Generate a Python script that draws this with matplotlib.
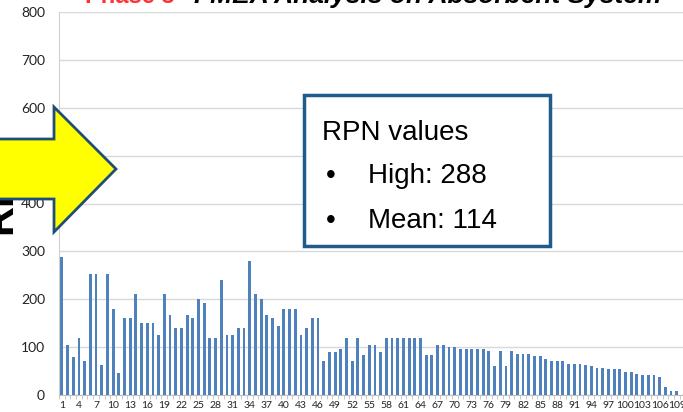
import matplotlib
matplotlib.use("Agg")
import matplotlib.pyplot as plt
from matplotlib.patches import Polygon, Rectangle
import numpy as np

# RPN score for each failure mode, in order of item number
rpn_values = [
    288, 104, 80, 120, 72, 252, 252, 63, 252, 180,
    45, 160, 160, 210, 150, 150, 150, 125, 210, 168,
    140, 140, 168, 160, 200, 192, 120, 120, 240, 125,
    125, 140, 140, 280, 210, 200, 168, 160, 145, 180,
    180, 180, 125, 140, 160, 160, 72, 90, 90, 96,
    120, 72, 120, 84, 105, 105, 90, 120, 120, 120,
    120, 120, 120, 120, 84, 84, 105, 105, 100, 100,
    96, 96, 96, 96, 96, 91, 60, 91, 60, 91,
    85, 85, 85, 82, 82, 75, 72, 72, 72, 64,
    64, 64, 63, 60, 56, 56, 54, 54, 54, 49,
    49, 43, 41, 41, 41, 37, 16, 8, 8,
]
items = list(range(1, len(rpn_values) + 1))
y_ticks = [0, 100, 200, 300, 400, 500, 600, 700, 800]
summary_title = "RPN values"
summary_lines = ["High: 288", "Mean: 114"]

W, H = 683, 412
fig = plt.figure(figsize=(W / 100, H / 100), dpi=100)
fig.patch.set_facecolor("white")

# axes placement in pixels
left_px, right_px, top_px, bottom_px = 59, 683, 12, 395
ax = fig.add_axes([left_px / W, (H - bottom_px) / H,
                   (right_px - left_px) / W, (bottom_px - top_px) / H])

ax.bar(items, rpn_values, width=0.5, color="#4f81bd", zorder=3)

ax.set_xlim(0.5, 110.1)
ax.set_ylim(0, 800)
ax.set_yticks(y_ticks)
ax.set_yticklabels([str(v) for v in y_ticks], fontsize=10, family="Lato", color="#222222")
ax.set_xticks(items[::3])
ax.set_xticklabels([str(i) for i in items[::3]], fontsize=7.5, family="Lato", color="#222222")
ax.set_xticks(np.arange(0.5, 110.5, 1.0), minor=True)
ax.tick_params(axis="x", which="major", length=0, pad=4)
ax.tick_params(axis="x", which="minor", length=3, color="#bfbfbf")
ax.tick_params(axis="y", length=0, pad=10)
ax.grid(axis="y", color="#d9d9d9", linewidth=1, zorder=0)
for s in ["top", "right"]:
    ax.spines[s].set_visible(False)
ax.spines["left"].set_color("#d0d0d0")
ax.spines["bottom"].set_color("#bfbfbf")

# title, clipped by the top edge of the figure
fig.text(85 / W, 1 - 3 / H, "Phase 3", color="#ff3333", fontsize=17,
         fontweight="bold", family="Liberation Sans", va="baseline", ha="left")
fig.text(172 / W, 1 - 3 / H, "– FMEA Analysis on Absorbent System", color="black",
         fontsize=19, fontweight="bold", style="italic", family="Liberation Sans",
         va="baseline", ha="left")

# y-axis label, partly past the left edge
fig.text(0 / W, 1 - 190 / H, "RPN", rotation=90, fontsize=30, fontweight="bold",
         family="Liberation Sans", va="center", ha="center")


def px(x, y):
    return (x / W, 1 - y / H)


# yellow arrow pointing at the chart
arrow_pts = [(-10, 139), (54, 139), (54, 107), (116, 169), (54, 232), (54, 199), (-10, 199)]
fig.patches.append(Polygon([px(x, y) for x, y in arrow_pts], closed=True,
                           transform=fig.transFigure, facecolor="#ffff00",
                           edgecolor="#1f4e79", linewidth=2, zorder=10))

# summary box
bx0, by0, bx1, by1 = 304, 95, 550, 246
fig.patches.append(Rectangle(px(bx0, by1), (bx1 - bx0) / W, (by1 - by0) / H,
                             transform=fig.transFigure, facecolor="white",
                             edgecolor="#1f5c8a", linewidth=2.5, zorder=10))
fig.text(*px(322, 140), summary_title, fontsize=20, family="Liberation Sans",
         va="baseline", ha="left", zorder=11)
for i, line in enumerate(summary_lines):
    yb = 183 + i * 45
    fig.text(*px(326, yb), "•", fontsize=20, family="Liberation Sans",
             va="baseline", ha="left", zorder=11)
    fig.text(*px(368, yb), line, fontsize=20, family="Liberation Sans",
             va="baseline", ha="left", zorder=11)

fig.savefig("out.png", dpi=100)
